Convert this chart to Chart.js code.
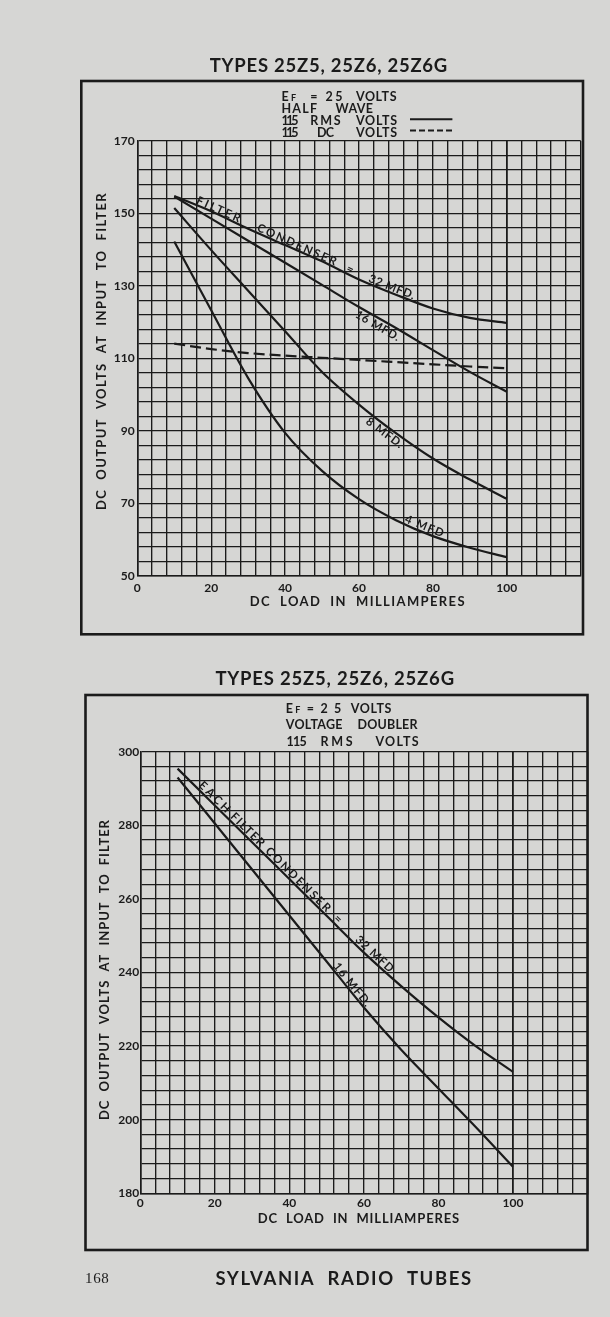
<!DOCTYPE html>
<html>
<head>
<meta charset="utf-8">
<script src="https://cdn.jsdelivr.net/npm/chart.js@4.4.1/dist/chart.umd.min.js"></script>
<style>
  html, body { margin: 0; padding: 0; background: #d6d6d4; }
  body { width: 610px; height: 1317px; position: relative; overflow: hidden; }
  .plate { position: absolute; }
  #plate1 { left: 60px; top: 40px; width: 530px; height: 605px; }
  #plate2 { left: 60px; top: 650px; width: 530px; height: 650px; }
</style>
</head>
<body>
<div class="plate" id="plate1"><canvas id="halfWave"></canvas></div>
<div class="plate" id="plate2"><canvas id="doubler"></canvas></div>
<script>
const loadMa = [10, 20, 30, 40, 50, 60, 70, 80, 90, 100];

// half wave, 115 V RMS, filter condenser sizes
const halfWave32 = [154.8, 150.6, 145.8, 141.3, 136.8, 131.8, 127.6, 123.8, 121.2, 119.8];
const halfWave16 = [154.7, 148.6, 142.5, 136.4, 130.3, 124.2, 118.4, 112.3, 106.3, 100.8];
const halfWave8 = [151.5, 139.9, 128.7, 117.5, 106.3, 97.3, 89.4, 82.4, 76.6, 71.3];
const halfWave4 = [142.3, 123.3, 104.6, 89.5, 79, 71.2, 65.4, 61, 57.8, 55.2];
// half wave, 115 V DC
const halfWaveDc = [114.1, 112.6, 111.5, 110.8, 110.2, 109.6, 109, 108.4, 107.8, 107.3];

// voltage doubler, each filter condenser
const doubler32 = [295.4, 285.4, 275.4, 265.4, 255.4, 245.4, 236.3, 227.8, 220, 213];
const doubler16 = [293, 280.5, 268, 255.5, 243, 230.5, 219, 208.5, 198, 187.2];

const xTickLabels = [0, 20, 40, 60, 80, 100];
const halfWaveYTicks = [50, 70, 90, 110, 130, 150, 170];
const doublerYTicks = [180, 200, 220, 240, 260, 280, 300];

const INK = "#1b1b1b";
const FONT = "Lato, 'DejaVu Sans', sans-serif";

// draw text starting at x, stretched with letter spacing to the given width
function fitText(ctx, text, x, y, width, size, weight, family) {
  ctx.font = `${weight || 700} ${size}px ${family || FONT}`;
  ctx.letterSpacing = "0px";
  const w = ctx.measureText(text).width;
  const gaps = text.length - 1;
  if (width && gaps > 0) ctx.letterSpacing = ((width - w) / gaps).toFixed(2) + "px";
  ctx.fillText(text, x, y);
  ctx.letterSpacing = "0px";
}

function valueAt(xs, ys, x) {
  for (let i = 1; i < xs.length; i++) {
    if (x <= xs[i]) {
      const t = (x - xs[i - 1]) / (xs[i] - xs[i - 1]);
      return ys[i - 1] + t * (ys[i] - ys[i - 1]);
    }
  }
  return ys[ys.length - 1];
}

// label written along a curve between two load values
function curveLabel(chart, ctx, lab) {
  const pts = chart.data.datasets[lab.series].data;
  const xs = pts.map(p => p.x), ys = pts.map(p => p.y);
  const sx = chart.scales.x, sy = chart.scales.y;
  const x0 = sx.getPixelForValue(lab.from), y0 = sy.getPixelForValue(valueAt(xs, ys, lab.from));
  const x1 = sx.getPixelForValue(lab.to), y1 = sy.getPixelForValue(valueAt(xs, ys, lab.to));
  const a = Math.atan2(y1 - y0, x1 - x0);
  const len = Math.hypot(x1 - x0, y1 - y0);
  const off = lab.above ? lab.gap : -(lab.gap + lab.size * 0.72);
  ctx.save();
  ctx.translate(x0 + Math.sin(a) * off, y0 - Math.cos(a) * off);
  ctx.rotate(a);
  fitText(ctx, lab.text, 0, 0, lab.text.length > 1 ? len : 0, lab.size);
  ctx.restore();
}

function platePlugin(cfg) {
  return {
    id: "plate",
    afterDraw(chart) {
      const ctx = chart.ctx;
      ctx.save();
      ctx.fillStyle = INK;
      ctx.strokeStyle = INK;
      ctx.textBaseline = "alphabetic";
      ctx.textAlign = "left";

      cfg.labels.forEach(lab => curveLabel(chart, ctx, lab));

      // everything below is placed in page coordinates
      ctx.translate(-cfg.origin[0], -cfg.origin[1]);
      const b = cfg.box;
      ctx.lineWidth = 2.6;
      ctx.strokeRect(b[0], b[1], b[2] - b[0], b[3] - b[1]);

      const t = cfg.title;
      fitText(ctx, t.text, t.x0, t.y, t.x1 - t.x0, 18.5);

      cfg.header.forEach(h => {
        if (h[0] === "EF") {
          fitText(ctx, "E", h[1], h[3], 0, 12.5);
          fitText(ctx, "F", h[1] + 9.5, h[3], 0, 9);
        } else {
          fitText(ctx, h[0], h[1], h[3], h[2] - h[1], 12.5);
        }
      });
      cfg.samples.forEach(s => {
        ctx.lineWidth = 2;
        ctx.setLineDash(s.dash);
        ctx.beginPath();
        ctx.moveTo(s.x0, s.y);
        ctx.lineTo(s.x1, s.y);
        ctx.stroke();
      });
      ctx.setLineDash([]);

      const yt = cfg.yTitle;
      ctx.save();
      ctx.translate(yt.x, yt.y0);
      ctx.rotate(-Math.PI / 2);
      fitText(ctx, yt.text, 0, 0, yt.y0 - yt.y1, 13);
      ctx.restore();

      const xt = cfg.xTitle;
      fitText(ctx, xt.text, xt.x0, xt.y, xt.x1 - xt.x0, 13);

      (cfg.footer || []).forEach(f => fitText(ctx, f.text, f.x0, f.y, f.x1 - f.x0, f.size, f.weight, f.family));
      ctx.restore();
    }
  };
}

function buildChart(canvasId, cfg) {
  return new Chart(document.getElementById(canvasId), {
    type: "line",
    data: {
      datasets: cfg.series.map(s => ({
        data: loadMa.map((x, i) => ({ x, y: s.values[i] })),
        borderColor: INK,
        borderWidth: 2.2,
        borderDash: s.dash || [],
        pointRadius: 0,
        cubicInterpolationMode: "monotone",
        fill: false
      }))
    },
    options: {
      responsive: true,
      maintainAspectRatio: false,
      animation: false,
      events: [],
      layout: { padding: cfg.padding },
      plugins: { legend: { display: false }, tooltip: { enabled: false } },
      scales: {
        x: {
          type: "linear",
          min: 0,
          max: 120,
          afterFit: scale => { scale.height = 20; },
          border: { display: true, color: INK, width: 1.6 },
          grid: {
            color: INK,
            drawTicks: false,
            lineWidth: c => (c.tick && c.tick.value === 100 ? 1.8 : 1.35)
          },
          ticks: {
            stepSize: 4,
            autoSkip: false,
            maxRotation: 0,
            padding: cfg.xTickPad,
            color: INK,
            font: { family: FONT, size: 12, weight: "bold" },
            callback: v => (xTickLabels.includes(v) ? String(v) : "")
          }
        },
        y: {
          type: "linear",
          min: cfg.yMin,
          max: cfg.yMax,
          afterFit: scale => { scale.width = 30; },
          border: { display: true, color: INK, width: 1.6 },
          grid: { color: INK, drawTicks: false, lineWidth: 1.35 },
          ticks: {
            stepSize: 4,
            autoSkip: false,
            padding: cfg.yTickPad,
            color: INK,
            font: { family: FONT, size: 12, weight: "bold" },
            callback: v => (cfg.yTicks.includes(v) ? String(v) : "")
          }
        }
      }
    },
    plugins: [platePlugin(cfg)]
  });
}

buildChart("halfWave", {
  origin: [60, 40],
  padding: { left: 47.3, right: 9.3, top: 101, bottom: 49 },
  yMin: 50, yMax: 170, yTicks: halfWaveYTicks, yTickPad: 2.6, xTickPad: 5,
  series: [
    { values: halfWave32 },
    { values: halfWave16 },
    { values: halfWave8 },
    { values: halfWave4 },
    { values: halfWaveDc, dash: [11, 5] }
  ],
  labels: [
    { text: "FILTER", series: 0, from: 15.6, to: 27.2, above: true, gap: 1.5, size: 11.5 },
    { text: "CONDENSER", series: 0, from: 32, to: 53.2, above: true, gap: 1.5, size: 11.5 },
    { text: "=", series: 0, from: 56.2, to: 58.4, above: true, gap: 1.5, size: 11.5 },
    { text: "32 MFD.", series: 0, from: 62.2, to: 74.5, above: true, gap: 1.5, size: 11.5 },
    { text: "16 MFD.", series: 1, from: 60.2, to: 71.8, above: false, gap: 2.5, size: 11.5 },
    { text: "8 MFD.", series: 2, from: 63.4, to: 72.7, above: false, gap: 2.5, size: 11.5 },
    { text: "4 MFD", series: 3, from: 72, to: 82.3, above: true, gap: 1.5, size: 11.5 }
  ],
  box: [81.3, 81, 583, 634.3],
  title: { text: "TYPES 25Z5, 25Z6, 25Z6G", x0: 209.7, x1: 447.3, y: 71.7 },
  header: [
    ["EF", 281.4, 300, 101], ["=", 310.2, 318.7, 101], ["25", 325.4, 342.4, 101], ["VOLTS", 355.9, 396.5, 101],
    ["HALF", 281.4, 317, 113.3], ["WAVE", 335.6, 372.8, 113.3],
    ["115", 281.4, 298.4, 125], ["RMS", 310.2, 340.7, 125], ["VOLTS", 355.9, 397.2, 125],
    ["115", 281.4, 298.4, 136.7], ["DC", 317, 333.9, 136.7], ["VOLTS", 355.9, 397.2, 136.7]
  ],
  samples: [
    { x0: 410, x1: 452.4, y: 119.3, dash: [] },
    { x0: 410, x1: 452.4, y: 130.5, dash: [6, 3] }
  ],
  yTitle: { text: "DC  OUTPUT  VOLTS  AT  INPUT  TO  FILTER", x: 106.4, y0: 510, y1: 193.3 },
  xTitle: { text: "DC  LOAD  IN  MILLIAMPERES", x0: 249.7, x1: 464.7, y: 605.7 }
});

buildChart("doubler", {
  origin: [60, 650],
  padding: { left: 50.3, right: 2.1, top: 101.7, bottom: 86.7 },
  yMin: 180, yMax: 300, yTicks: doublerYTicks, yTickPad: 1.2, xTickPad: 2.5,
  series: [
    { values: doubler32 },
    { values: doubler16 }
  ],
  labels: [
    { text: "EACH", series: 0, from: 15.1, to: 22.6, above: true, gap: 2, size: 11.5 },
    { text: "FILTER", series: 0, from: 23.6, to: 31.8, above: true, gap: 2, size: 11.5 },
    { text: "CONDENSER", series: 0, from: 33, to: 49.5, above: true, gap: 2, size: 11.5 },
    { text: "=", series: 0, from: 51.3, to: 54.2, above: true, gap: 2, size: 11.5 },
    { text: "32 MFD", series: 0, from: 57.1, to: 66.5, above: true, gap: 2, size: 11.5 },
    { text: "16 MFD.", series: 1, from: 51.3, to: 60.2, above: true, gap: 1.5, size: 11.5 }
  ],
  box: [85.5, 695, 587.5, 1250],
  title: { text: "TYPES 25Z5, 25Z6, 25Z6G", x0: 215.4, x1: 454.1, y: 685 },
  header: [
    ["EF", 285.8, 301.7, 713.3], ["=", 306.8, 315.3, 713.3], ["25", 320.4, 341.3, 713.3], ["VOLTS", 350.8, 391.4, 713.3],
    ["VOLTAGE", 285.8, 342.4, 729.3], ["DOUBLER", 357.6, 417.5, 729.3],
    ["115", 286.5, 306.8, 746], ["RMS", 320.4, 352.5, 746], ["VOLTS", 375.5, 418.5, 746]
  ],
  samples: [],
  yTitle: { text: "DC  OUTPUT  VOLTS  AT  INPUT  TO  FILTER", x: 108.8, y0: 1120, y1: 820 },
  xTitle: { text: "DC  LOAD  IN  MILLIAMPERES", x0: 257.7, x1: 459.1, y: 1223.3 },
  footer: [
    { text: "168", x0: 85, x1: 108.8, y: 1283.3, size: 15, weight: 400, family: "'Liberation Serif', serif" },
    { text: "SYLVANIA  RADIO  TUBES", x0: 215.4, x1: 471, y: 1285, size: 18.5 }
  ]
});
</script>
</body>
</html>
